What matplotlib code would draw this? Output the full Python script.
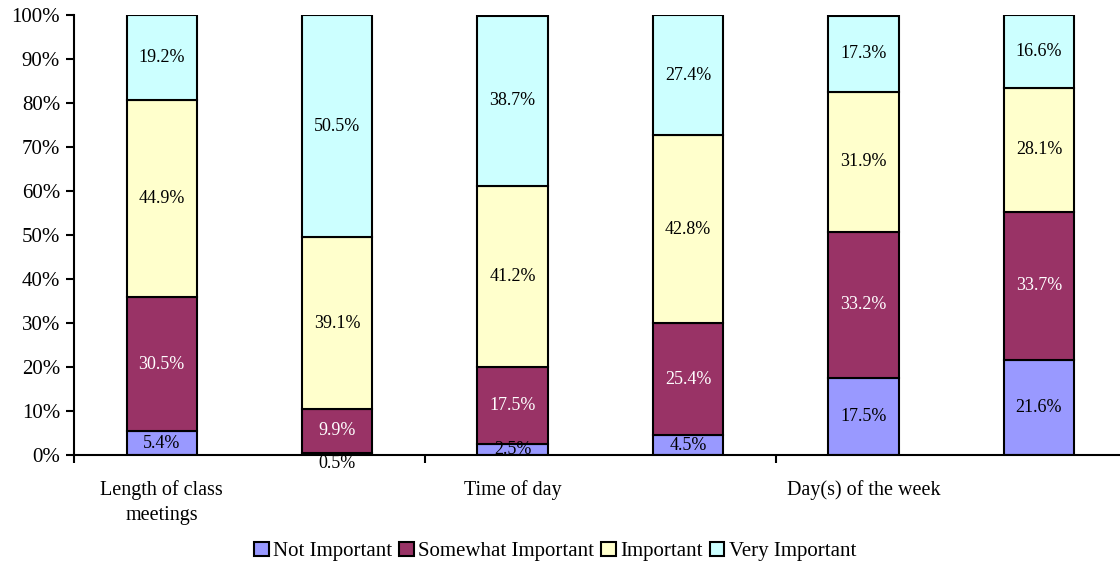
import matplotlib.pyplot as plt
import numpy as np
from matplotlib.ticker import FixedLocator, PercentFormatter

plt.rcParams['font.family'] = ['Liberation Serif', 'DejaVu Serif']

# Data (percent of responses)
series = ["Not Important", "Somewhat Important", "Important", "Very Important"]
not_important = [5.4, 0.5, 2.5, 4.5, 17.5, 21.6]
somewhat = [30.5, 9.9, 17.5, 25.4, 33.2, 33.7]
important = [44.9, 39.1, 41.2, 42.8, 31.9, 28.1]
very_important = [19.2, 50.5, 38.7, 27.4, 17.3, 16.6]
group_labels = ["Length of class\nmeetings", "Time of day", "Day(s) of the week"]

colors = ["#9999FF", "#993366", "#FFFFCC", "#CCFFFF"]
text_colors = ["black", "white", "black", "black"]

fig = plt.figure(figsize=(11.2, 5.63), dpi=100)
ax = fig.add_axes([0.066, 0.192, 0.94, 0.781])

x = np.arange(len(not_important))
bottom = np.zeros(len(x))
for vals, name, col, tcol in zip([not_important, somewhat, important, very_important],
                                 series, colors, text_colors):
    vals = np.array(vals)
    ax.bar(x, vals, 0.4, bottom=bottom, color=col, edgecolor="black",
           linewidth=1.5, label=name, zorder=2)
    for xi, b, v in zip(x, bottom, vals):
        if v < 1:
            # too thin, label goes under the axis
            ax.text(xi, -1.9, f"{v:.1f}%", ha="center", va="center",
                    fontsize=13, color="black", clip_on=False)
        else:
            ax.text(xi, b + v / 2, f"{v:.1f}%", ha="center", va="center",
                    fontsize=13, color=tcol, zorder=4)
    bottom += vals

ax.set_xlim(-0.5, 5.5)
ax.set_ylim(0, 100)
ax.yaxis.set_major_locator(FixedLocator(np.arange(0, 101, 10)))
ax.yaxis.set_major_formatter(PercentFormatter(decimals=0))

ax.set_xticks([0, 2, 4])
ax.set_xticklabels(group_labels, linespacing=1.45)
ax.set_xticks([-0.5, 1.5, 3.5, 5.5], minor=True)
ax.tick_params(axis="x", which="major", length=0, pad=18, labelsize=14.5)
ax.tick_params(axis="x", which="minor", length=6, width=1.5, direction="out")
ax.tick_params(axis="y", length=6, width=1.5, labelsize=15, pad=4)

for s in ["top", "right"]:
    ax.spines[s].set_visible(False)
ax.spines["left"].set_linewidth(1.5)
ax.spines["bottom"].set_linewidth(1.5)
ax.spines["bottom"].set_zorder(5)

ax.legend(loc="center", bbox_to_anchor=(0.457, -0.22), ncol=4, frameon=False,
          fontsize=15, handlelength=0.7, handleheight=0.7, handletextpad=0.2,
          columnspacing=0.35, borderpad=0)

fig.savefig("out.png", dpi=100)
